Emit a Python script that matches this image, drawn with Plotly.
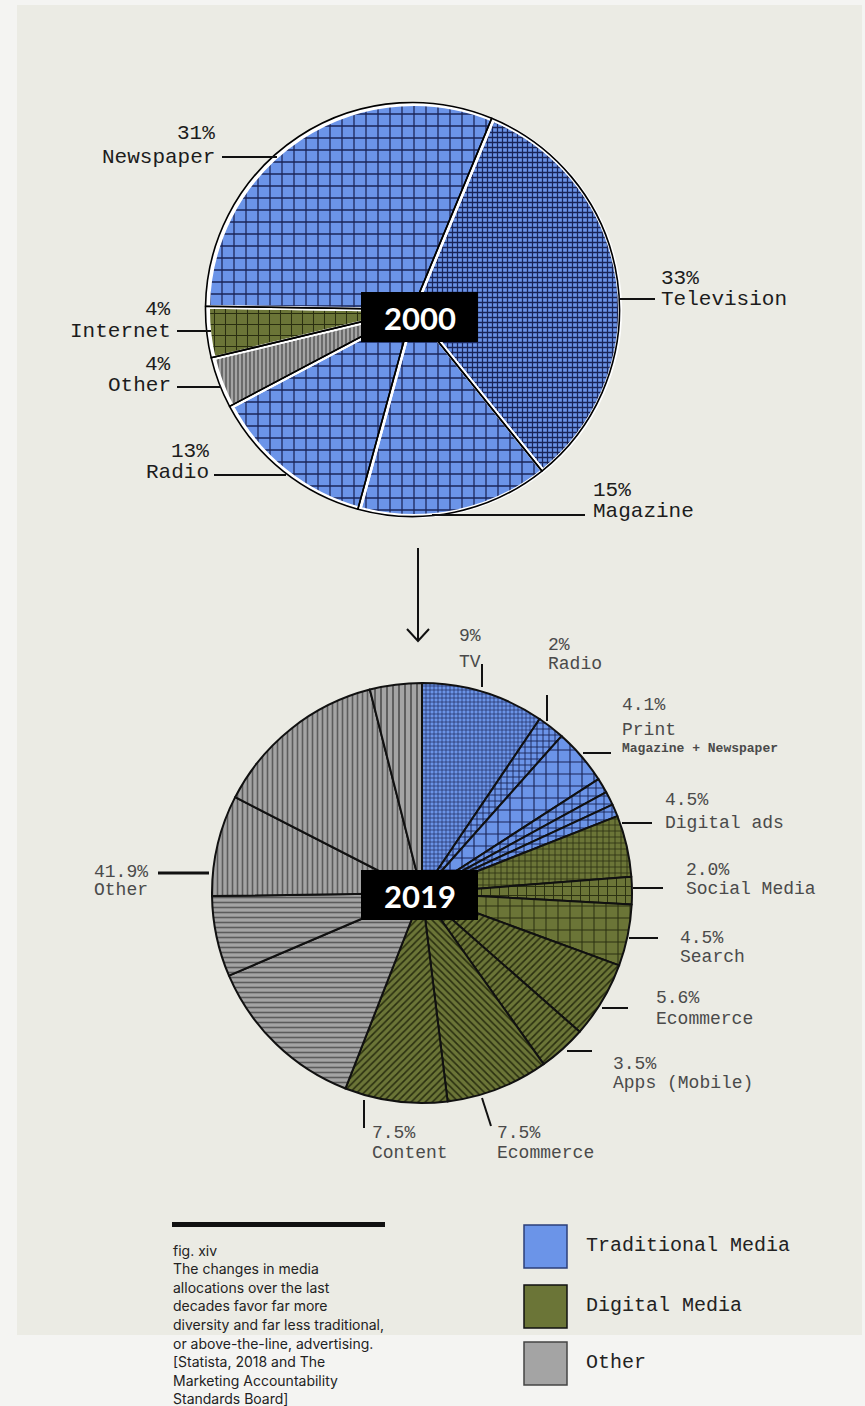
import plotly.graph_objects as go

W, H = 865, 1406

# ---------------- data ----------------
# Media allocation, year 2000 (clockwise from the Newspaper/Television edge)
m2000_ids = ["Television", "Magazine", "Radio", "Other", "Internet", "Newspaper"]
m2000_values = [33, 15, 13, 4, 4, 31]
m2000_group = ["Traditional Media", "Traditional Media", "Traditional Media",
               "Other", "Digital Media", "Traditional Media"]

# Media allocation, year 2019 (clockwise from 12 o'clock)
m2019_ids = ["TV", "Radio", "Print", "Trad A", "Trad B", "Trad C",
             "Digital ads", "Social Media", "Search", "Ecommerce", "Apps (Mobile)",
             "Ecommerce B", "Content",
             "Other A", "Other B", "Other C", "Other D", "Other E"]
m2019_values = [9, 2, 4.1, 1.1, 1.0, 0.9,
                4.5, 2.0, 4.5, 5.6, 3.5,
                7.5, 7.5,
                12.0, 5.9, 7.4, 12.8, 3.8]
m2019_group = (["Traditional Media"] * 6 + ["Digital Media"] * 7 + ["Other"] * 5)

groups = ["Traditional Media", "Digital Media", "Other"]

# ---------------- style ----------------
FILL = {"Traditional Media": "#6b94e8", "Digital Media": "#6b7537", "Other": "#a4a4a4"}
INK = {"Traditional Media": "#1a2558", "Digital Media": "#2a2f10", "Other": "#5c5c5c"}
LEGEND_EDGE = {"Traditional Media": "#2c3f78", "Digital Media": "#111111", "Other": "#444444"}

PAGE_BG = "#f4f4f2"
PANEL_BG = "#ebebe4"
MONO = "Courier New, Courier, Nimbus Mono PS, FreeMono, Liberation Mono, monospace"
SANS = "Inter, Noto Sans, sans-serif"


def px(x):
    return x / W


def py(y):
    return 1 - y / H


def dom(cx, cy, r):
    return dict(x=[px(cx - r), px(cx + r)], y=[py(cy + r), py(cy - r)])


# pattern per slice: (shape, size, solidity)
pat2000 = {
    "Television": ("+", 5, 0.44),
    "Magazine": ("+", 12, 0.2),
    "Radio": ("+", 12, 0.2),
    "Other": ("|", 4, 0.4),
    "Internet": ("+", 11, 0.18),
    "Newspaper": ("+", 12, 0.2),
}
pat2019 = {
    "TV": ("+", 4, 0.3),
    "Radio": ("+", 6, 0.28),
    "Print": ("+", 12, 0.18),
    "Trad A": ("+", 8, 0.22),
    "Trad B": ("+", 8, 0.22),
    "Trad C": ("+", 8, 0.22),
    "Digital ads": ("+", 6, 0.25),
    "Social Media": ("+", 9, 0.2),
    "Search": ("+", 12, 0.16),
    "Ecommerce": ("/", 5, 0.32),
    "Apps (Mobile)": ("/", 5, 0.32),
    "Ecommerce B": ("\\", 5, 0.32),
    "Content": ("/", 5, 0.32),
    "Other A": ("-", 5, 0.32),
    "Other B": ("-", 5, 0.32),
    "Other C": ("|", 5, 0.32),
    "Other D": ("|", 5, 0.32),
    "Other E": ("|", 6, 0.32),
}


def pattern_for(ids, grp, pats):
    return dict(
        shape=[pats[i][0] for i in ids],
        size=[pats[i][1] for i in ids],
        solidity=[pats[i][2] for i in ids],
        fgcolor=[INK[g] for g in grp],
        bgcolor=[FILL[g] for g in grp],
        fillmode="replace",
    )


C2000 = (414, 310, 206)
C2019 = (422, 893, 210)

fig = go.Figure()

# 2000 pie: filled slices with white separators
fig.add_trace(go.Pie(
    labels=m2000_ids, values=m2000_values, sort=False, direction="clockwise",
    rotation=22.5, textinfo="none", hoverinfo="label+percent", showlegend=False,
    marker=dict(colors=[FILL[g] for g in m2000_group],
                line=dict(color="white", width=4),
                pattern=pattern_for(m2000_ids, m2000_group, pat2000)),
    domain=dom(*C2000),
))
# 2000 pie: black outlines, slightly offset
fig.add_trace(go.Pie(
    labels=m2000_ids, values=m2000_values, sort=False, direction="clockwise",
    rotation=22.5, textinfo="none", hoverinfo="skip", showlegend=False,
    marker=dict(colors=["rgba(0,0,0,0)"] * len(m2000_ids),
                line=dict(color="black", width=1.6)),
    domain=dom(C2000[0] - 1.5, C2000[1] - 0.5, C2000[2] + 1),
))

# 2019 pie
fig.add_trace(go.Pie(
    labels=m2019_ids, values=m2019_values, sort=False, direction="clockwise",
    rotation=0, textinfo="none", hoverinfo="label+percent", showlegend=False,
    marker=dict(colors=[FILL[g] for g in m2019_group],
                line=dict(color="#111111", width=2),
                pattern=pattern_for(m2019_ids, m2019_group, pat2019)),
    domain=dom(*C2019),
))

shapes = []
annotations = []

# page panel
shapes.append(dict(type="rect", xref="paper", yref="paper", layer="below",
                   x0=px(17), x1=px(862), y0=py(1335), y1=py(5),
                   fillcolor=PANEL_BG, line=dict(width=0)))


def hline(x0, y0, x1, y1, color="#111111", width=2):
    shapes.append(dict(type="line", xref="paper", yref="paper",
                       x0=px(x0), y0=py(y0), x1=px(x1), y1=py(y1),
                       line=dict(color=color, width=width)))


def text(x, y, s, size, color, anchor="left", family=MONO, bold=False):
    if bold:
        s = "<b>" + s + "</b>"
    annotations.append(dict(xref="paper", yref="paper", x=px(x), y=py(y),
                            text=s, showarrow=False, xanchor=anchor, yanchor="middle",
                            font=dict(family=family, size=size, color=color)))


# ---- 2000 labels: (text x, anchor, pct y, name y, leader line)
lab2000 = {
    "Newspaper": (217, "right", 133, 157, (222, 157, 277, 157)),
    "Television": (659, "left", 278, 299, (620, 299, 655, 299)),
    "Internet": (173, "right", 309, 331, (177, 331, 211, 331)),
    "Other": (173, "right", 364, 386, (177, 387, 221, 387)),
    "Radio": (211, "right", 451, 473, (214, 475, 286, 475)),
    "Magazine": (591, "left", 490, 512, (432, 515, 585, 515)),
}
for name, v in zip(m2000_ids, m2000_values):
    x, anc, yp, yn, ln = lab2000[name]
    text(x, yp, f"{v}%", 21, "#1c1c1c", anc)
    text(x, yn, name, 21, "#1c1c1c", anc)
    hline(*ln)

# ---- 2019 labels
vals2019 = dict(zip(m2019_ids, m2019_values))
lab2019 = {
    "TV": ("TV", 0, 457, 636, 662, (482, 664, 482, 687)),
    "Radio": ("Radio", 0, 546, 645, 664, (547, 695, 547, 721)),
    "Print": ("Print", 1, 620, 705, 730, (583, 753, 611, 753)),
    "Digital ads": ("Digital ads", 1, 663, 800, 823, (622, 823, 652, 823)),
    "Social Media": ("Social Media", 1, 684, 870, 889, (633, 888, 663, 888)),
    "Search": ("Search", 1, 678, 938, 957, (629, 938, 658, 938)),
    "Ecommerce": ("Ecommerce", 1, 654, 998, 1019, (602, 1008, 628, 1008)),
    "Apps (Mobile)": ("Apps (Mobile)", 1, 611, 1064, 1083, (567, 1051, 592, 1051)),
    "Content": ("Content", 1, 370, 1133, 1153, (364, 1100, 364, 1128)),
    "Ecommerce B": ("Ecommerce", 1, 495, 1133, 1153, (482, 1098, 491, 1126)),
}
GRAY_TXT = "#4a4a4a"
for key, (name, dec, x, yp, yn, ln) in lab2019.items():
    text(x, yp, f"{vals2019[key]:.{dec}f}%", 18, GRAY_TXT)
    text(x, yn, name, 18, GRAY_TXT)
    hline(*ln)
text(620, 748, "Magazine + Newspaper", 13, GRAY_TXT, bold=True)

other_total = sum(v for v, g in zip(m2019_values, m2019_group) if g == "Other")
text(92, 872, f"{other_total:.1f}%", 18, GRAY_TXT)
text(92, 890, "Other", 18, GRAY_TXT)
hline(158, 873, 209, 873, width=3)

# ---- year badges
for (x0, y0, x1, y1), yr in (((361, 292, 478, 342), "2000"), ((361, 870, 478, 920), "2019")):
    shapes.append(dict(type="rect", xref="paper", yref="paper", layer="above",
                       x0=px(x0), x1=px(x1), y0=py(y1), y1=py(y0),
                       fillcolor="black", line=dict(width=0)))
    text((x0 + x1) / 2, (y0 + y1) / 2 + 1, yr, 31, "white", "center",
         family="Lato, Inter, sans-serif", bold=True)

# ---- arrow between the two pies
hline(418, 548, 418, 641, width=2)
shapes.append(dict(type="path", xref="paper", yref="paper",
                   path=f"M {px(407)},{py(629)} L {px(418)},{py(641)} L {px(429)},{py(629)}",
                   line=dict(color="#111111", width=2)))

# ---- caption
shapes.append(dict(type="rect", xref="paper", yref="paper",
                   x0=px(172), x1=px(385), y0=py(1227), y1=py(1222),
                   fillcolor="#111111", line=dict(width=0)))
caption = [
    "fig. xiv",
    "The changes in media",
    "allocations over the last",
    "decades favor far more",
    "diversity and far less traditional,",
    "or above-the-line, advertising.",
    "[Statista, 2018 and The",
    "Marketing Accountability",
    "Standards Board]",
]
for i, line in enumerate(caption):
    text(171, 1250 + i * 18.6, line, 14, "#222222", family=SANS)

# ---- legend
leg_rows = [1225, 1285, 1342]
for g, top in zip(groups, leg_rows):
    shapes.append(dict(type="rect", xref="paper", yref="paper",
                       x0=px(524), x1=px(567), y0=py(top + 43), y1=py(top),
                       fillcolor=FILL[g], line=dict(color=LEGEND_EDGE[g], width=1.5)))
    text(584, top + 20, g, 20, "#222222")

fig.update_layout(
    width=W, height=H,
    margin=dict(l=0, r=0, t=0, b=0),
    paper_bgcolor=PAGE_BG, plot_bgcolor=PAGE_BG,
    shapes=shapes, annotations=annotations,
    showlegend=False,
)

fig.write_html("out.html")
